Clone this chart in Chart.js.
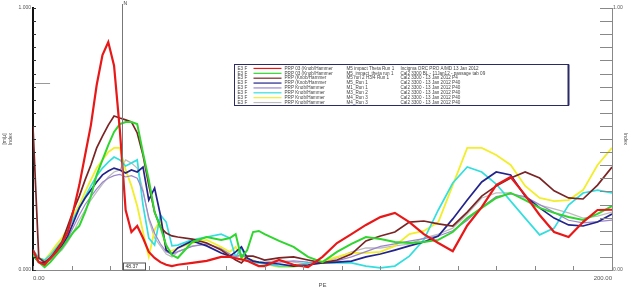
<!DOCTYPE html>
<html>
<head>
<meta charset="utf-8">
<script src="https://cdn.jsdelivr.net/npm/chart.js@4.4.0/dist/chart.umd.min.js"></script>
<style>
html, body { margin: 0; padding: 0; background: #fff; }
</style>
</head>
<body>
<canvas id="myChart" width="628" height="289"></canvas>
<script>
var xValues = [0,2,4,6,8,10,12,14,16,18,20,22,24,26,28,30,32,34,36,38,40,42,44,46,48,50,
  55,60,65,68,70,72,74,76,78,80,85,90,95,100,105,110,115,120,125,130,135,140,145,150,
  155,160,165,170,175,180,185,190,195,200];

var redRun = [0.076,0.03,0.02,0.046,0.069,0.103,0.145,0.229,0.324,0.439,0.553,0.706,0.82,0.87,0.78,0.534,0.229,0.145,0.168,0.122,0.069,0.046,0.03,0.02,0.015,0.02,
  0.027,0.035,0.05,0.05,0.045,0.04,0.035,0.025,0.015,
  0.015,0.038,0.02,0.011,0.05,0.103,0.137,0.172,0.202,0.218,0.183,0.137,0.103,0.072,0.17,0.24,0.324,0.355,0.286,0.21,0.145,0.126,0.183,0.229,0.23];
var greenRun = [0.057,0.03,0.011,0.03,0.057,0.084,0.115,0.145,0.168,0.221,0.282,0.363,0.42,0.477,0.527,0.557,0.565,0.565,0.557,0.447,0.344,0.221,0.164,0.095,0.057,0.046,
  0.107,0.126,0.115,0.122,0.137,0.046,0.076,0.145,0.149,
  0.137,0.111,0.088,0.05,0.03,0.069,0.1,0.126,0.118,0.107,0.103,0.107,0.115,0.145,0.198,0.237,0.275,0.294,0.267,0.237,0.218,0.202,0.191,0.214,0.244];
var maroonRun = [0.546,0.046,0.03,0.046,0.076,0.107,0.168,0.229,0.282,0.344,0.401,0.466,0.511,0.553,0.588,0.58,0.573,0.565,0.523,0.439,0.324,0.221,0.164,0.141,0.13,0.126,
  0.118,0.103,0.076,0.053,0.038,0.027,0.053,0.053,0.046,
  0.038,0.046,0.05,0.038,0.027,0.038,0.061,0.111,0.13,0.145,0.183,0.187,0.176,0.168,0.221,0.282,0.321,0.351,0.374,0.351,0.302,0.275,0.271,0.324,0.393];
var navyRun = [0.057,0.03,0.027,0.046,0.069,0.092,0.13,0.183,0.237,0.275,0.305,0.336,0.363,0.378,0.389,0.382,0.37,0.382,0.374,0.393,0.267,0.313,0.21,0.076,0.061,0.084,
  0.111,0.092,0.065,0.053,0.069,0.088,0.046,0.034,0.03,
  0.027,0.023,0.015,0.019,0.027,0.03,0.034,0.05,0.061,0.076,0.092,0.107,0.13,0.195,0.267,0.336,0.374,0.363,0.282,0.237,0.198,0.172,0.168,0.183,0.214];
var purpleRun = [0.06,0.03,0.025,0.04,0.06,0.085,0.12,0.165,0.21,0.25,0.28,0.31,0.335,0.35,0.36,0.365,0.355,0.36,0.35,0.3,0.2,0.14,0.1,0.07,0.06,0.07,
  0.09,0.1,0.08,0.06,0.05,0.06,0.045,0.035,0.03,
  0.028,0.03,0.035,0.03,0.028,0.035,0.05,0.07,0.09,0.1,0.11,0.12,0.13,0.15,0.19,0.24,0.28,0.29,0.28,0.25,0.22,0.19,0.18,0.185,0.19];
var cyanRun = [0.076,0.046,0.038,0.057,0.084,0.111,0.153,0.198,0.237,0.279,0.321,0.359,0.389,0.412,0.431,0.42,0.397,0.408,0.42,0.248,0.122,0.095,0.21,0.183,0.092,0.095,
  0.115,0.126,0.137,0.122,0.05,0.084,0.038,0.03,0.027,
  0.023,0.015,0.015,0.027,0.027,0.027,0.027,0.015,0.008,0.015,0.053,0.115,0.229,0.332,0.393,0.374,0.328,0.263,0.198,0.134,0.16,0.248,0.294,0.305,0.294];
var yellowRun = [0.069,0.046,0.038,0.065,0.095,0.122,0.16,0.21,0.248,0.298,0.344,0.389,0.42,0.45,0.466,0.466,0.382,0.321,0.244,0.145,0.05,0.153,0.191,0.076,0.073,0.084,
  0.103,0.115,0.088,0.069,0.088,0.046,0.038,0.038,0.027,
  0.023,0.011,0.011,0.023,0.034,0.05,0.065,0.065,0.069,0.092,0.137,0.149,0.183,0.324,0.466,0.466,0.439,0.401,0.321,0.275,0.263,0.267,0.305,0.401,0.466];
var greyRun = [0.053,0.027,0.023,0.038,0.057,0.076,0.107,0.145,0.191,0.229,0.267,0.298,0.328,0.355,0.374,0.382,0.42,0.408,0.389,0.305,0.191,0.122,0.092,0.061,0.05,0.069,
  0.092,0.099,0.084,0.061,0.046,0.057,0.042,0.03,0.027,
  0.03,0.038,0.03,0.023,0.03,0.046,0.069,0.084,0.084,0.092,0.099,0.122,0.137,0.16,0.214,0.275,0.294,0.294,0.275,0.248,0.233,0.218,0.198,0.206,0.221];

var legendRows = [
  ['E3 F', 'PRP 03 (Knob/Hammer', 'M5 impact Theta Run 1', 'Incigma ORC PRO A/MD 13 Jan 2012'],
  ['E3 F', 'PRP 03 (Knob/Hammer', 'M5_impact_theta run 1', 'Cal2 3300 BL - 11Jan12 - passage tab 09'],
  ['E3 F', 'PRP (Knob/Hammer', 'M5 run 2 H3/4 Run 1', 'Cal2 3300 - 13 Jan 2012 P4'],
  ['E3 F', 'PRP (Knob/Hammer', 'M5_Run 1', 'Cal2 3300 - 13 Jan 2012 P40'],
  ['E3 F', 'PRP Knob/Hammer', 'M1_Run 1', 'Cal2 3300 - 13 Jan 2012 P40'],
  ['E3 F', 'PRP Knob/Hammer', 'M3_Run 2', 'Cal2 3300 - 13 Jan 2012 P40'],
  ['E3 F', 'PRP Knob/Hammer', 'M4_Run 3', 'Cal2 3300 - 13 Jan 2012 P40'],
  ['E3 F', 'PRP Knob/Hammer', 'M4_Run 3', 'Cal2 3300 - 13 Jan 2012 P40']
];
var cursorX = 30.7;
var cursorText = '48.37';

function series(data, color, width) {
  return {
    data: data.map(function(v, i) { return { x: xValues[i], y: v }; }),
    borderColor: color,
    backgroundColor: 'transparent',
    borderWidth: width,
    pointRadius: 0,
    tension: 0
  };
}

var overlay = {
  id: 'overlay',
  afterDraw: function(chart) {
    var c = chart.ctx, a = chart.chartArea;
    var xs = chart.scales.x, yl = chart.scales.y, yr = chart.scales.y2;
    c.save();
    c.lineWidth = 1;
    // inner tick marks
    c.strokeStyle = '#888';
    xs.ticks.forEach(function(t) {
      var px = Math.round(xs.getPixelForValue(t.value)) + 0.5;
      c.beginPath(); c.moveTo(px, a.bottom); c.lineTo(px, a.bottom - 4); c.stroke();
    });
    yr.ticks.forEach(function(t) {
      var py = Math.round(yr.getPixelForValue(t.value)) + 0.5;
      c.beginPath(); c.moveTo(a.right, py); c.lineTo(a.right - 12, py); c.stroke();
    });
    c.strokeStyle = '#333';
    yl.ticks.forEach(function(t) {
      var py = Math.round(yl.getPixelForValue(t.value)) + 0.5;
      c.beginPath(); c.moveTo(a.left, py); c.lineTo(a.left + 3, py); c.stroke();
    });
    // small marker near left axis
    c.strokeStyle = '#999';
    var my = Math.round(yl.getPixelForValue(0.714)) + 0.5;
    c.beginPath(); c.moveTo(xs.getPixelForValue(0.7), my); c.lineTo(xs.getPixelForValue(5.9), my); c.stroke();

    // cursor
    var cx = Math.round(xs.getPixelForValue(cursorX)) + 0.5;
    c.strokeStyle = '#777';
    c.beginPath(); c.moveTo(cx, a.top - 4); c.lineTo(cx, a.bottom); c.stroke();
    c.fillStyle = '#fff';
    c.fillRect(cx + 1, a.bottom - 7, 22, 7);
    c.strokeStyle = '#555';
    c.strokeRect(cx + 1, a.bottom - 7, 22, 7);
    c.fillStyle = '#333';
    c.font = '5px "Liberation Sans", Arial';
    c.textBaseline = 'middle';
    c.textAlign = 'left';
    c.fillText(cursorText, cx + 3, a.bottom - 3.5);
    c.fillText('N', cx + 1, a.top - 4);

    // legend box
    var lx = 234.5, ly = 64.5, lw = 334, lh = 41;
    c.fillStyle = '#fff';
    c.fillRect(lx, ly, lw, lh);
    c.strokeStyle = '#2a2a66';
    c.lineWidth = 1;
    c.strokeRect(lx, ly, lw, lh);
    c.fillStyle = '#2a2a66';
    c.fillRect(lx + lw - 1, ly, 2, lh);
    var rowH = (lh - 2) / legendRows.length;
    c.font = '4.6px "Liberation Sans", Arial';
    chart.data.datasets.forEach(function(ds, i) {
      var ry = ly + 1.5 + rowH * (i + 0.5);
      var row = legendRows[i];
      c.fillStyle = '#444';
      c.fillText(row[0], lx + 3, ry);
      c.strokeStyle = ds.borderColor;
      c.lineWidth = 1.2;
      c.beginPath(); c.moveTo(lx + 19, ry); c.lineTo(lx + 47, ry); c.stroke();
      c.fillStyle = '#444';
      c.fillText(row[1], lx + 50, ry);
      c.fillText(row[2], lx + 112, ry);
      c.fillText(row[3], lx + 166, ry);
    });
    c.restore();
  }
};

var ctx = document.getElementById('myChart').getContext('2d');
var myChart = new Chart(ctx, {
  type: 'line',
  data: {
    datasets: [
      series(redRun, '#e81818', 2.2),
      series(greenRun, '#2ed62e', 2),
      series(maroonRun, '#7a2424', 1.7),
      series(navyRun, '#23238c', 1.7),
      series(purpleRun, '#9c86cc', 1.2),
      series(cyanRun, '#33dede', 1.7),
      series(yellowRun, '#f2ee2a', 1.8),
      series(greyRun, '#bdbdbd', 1.3)
    ]
  },
  options: {
    responsive: false,
    animation: false,
    devicePixelRatio: 1,
    layout: { padding: { top: 8, left: 0, right: 0, bottom: 0 } },
    plugins: { legend: { display: false }, tooltip: { enabled: false } },
    scales: {
      x: {
        type: 'linear',
        min: 0,
        max: 200,
        ticks: {
          stepSize: 200 / 15,
          autoSkip: false,
          maxRotation: 0,
          align: 'inner',
          padding: 5,
          color: '#555',
          font: { size: 6, family: '"Liberation Sans", Arial' },
          callback: function(v, i, t) {
            if (i === 0) return '0.00';
            if (i === t.length - 1) return '200.00';
            return '';
          }
        },
        grid: { drawOnChartArea: false, drawTicks: false },
        border: { color: '#888', width: 1 },
        title: { display: true, text: 'PE', color: '#555', padding: 0, font: { size: 6, family: '"Liberation Sans", Arial' } },
        afterFit: function(s) { s.height = 19; }
      },
      y: {
        position: 'left',
        min: 0,
        max: 1,
        ticks: {
          stepSize: 0.05,
          autoSkip: false,
          padding: 2,
          color: '#555',
          font: { size: 5, family: '"Liberation Sans", Arial' },
          callback: function(v) {
            if (Math.abs(v) < 1e-6) return '0.000';
            if (Math.abs(v - 1) < 1e-6) return '1.000';
            return '';
          }
        },
        grid: { drawOnChartArea: false, drawTicks: false },
        border: { color: '#111', width: 2 },
        title: { display: true, text: ['[m/\u03bc]', 'Index'], color: '#555', padding: 2, font: { size: 5, family: '"Liberation Sans", Arial' } },
        afterFit: function(s) { s.width = 33; }
      },
      y2: {
        position: 'right',
        min: 0,
        max: 1,
        ticks: {
          stepSize: 0.05,
          autoSkip: false,
          padding: 1,
          color: '#555',
          font: { size: 5, family: '"Liberation Sans", Arial' },
          callback: function(v) {
            if (Math.abs(v) < 1e-6) return '0.00';
            if (Math.abs(v - 1) < 1e-6) return '1.00';
            return '';
          }
        },
        grid: { drawOnChartArea: false, drawTicks: false },
        border: { color: '#888', width: 1 },
        title: { display: true, text: 'Index', color: '#555', padding: 0, font: { size: 5, family: '"Liberation Sans", Arial' } },
        afterFit: function(s) { s.width = 16; }
      }
    }
  },
  plugins: [overlay]
});
</script>
</body>
</html>
